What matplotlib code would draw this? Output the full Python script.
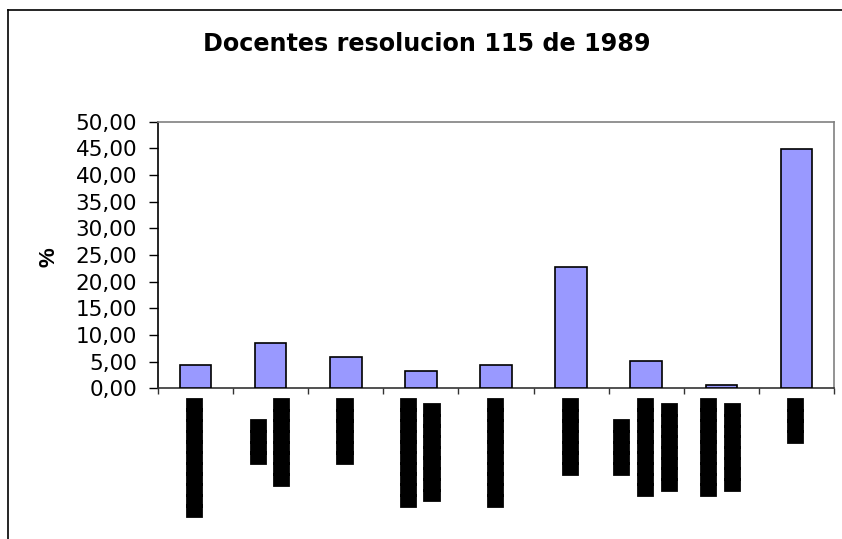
import numpy as np
import matplotlib
matplotlib.use("Agg")
import matplotlib.pyplot as plt
import matplotlib.patheffects as pe
from matplotlib.lines import Line2D
from matplotlib.transforms import ScaledTranslation

# ---- data ----
title = "Docentes resolucion 115 de 1989"
y_label = "%"
values = [4.4, 8.5, 5.9, 3.3, 4.4, 22.8, 5.1, 0.6, 44.8]
# category labels are unreadable in the reference (rendered as solid black blocks)
B = "\u2588"
category_labels = [
    B * 11,
    B * 4 + "\n" + B * 8,
    B * 6,
    B * 10 + "\n" + B * 9,
    B * 10,
    B * 7,
    B * 5 + "\n" + B * 9 + "\n" + B * 8,
    B * 9 + "\n" + B * 8,
    B * 4,
]
y_ticks = [0, 5, 10, 15, 20, 25, 30, 35, 40, 45, 50]

W, Hh = 842, 539
fig = plt.figure(figsize=(W / 100, Hh / 100), dpi=100)
fig.patch.set_facecolor("white")

left, right, top, bottom = 158, 834, 121.7, 388.3
ax = fig.add_axes([left / W, 1 - bottom / Hh, (right - left) / W, (bottom - top) / Hh])

x = np.arange(len(values))
ax.bar(x, values, width=0.42, color="#9999FF", edgecolor="black", linewidth=1.2, zorder=3)
ax.set_xlim(-0.5, len(values) - 0.5)
ax.set_ylim(0, 50)

ax.set_yticks(y_ticks)
ax.set_yticklabels([f"{v:.2f}".replace(".", ",") for v in y_ticks])
ax.tick_params(axis="y", direction="out", length=6.5, width=1, pad=8.5,
               labelsize=15.5, labelfontfamily="DejaVu Sans")

ax.set_xticks(x)
ax.set_xticklabels(category_labels, rotation=90, fontsize=10, family="DejaVu Sans",
                   linespacing=1.85, ha="center", va="top")
ax.tick_params(axis="x", which="major", length=0, pad=8)
ax.set_xticks(np.arange(-0.5, len(values), 1), minor=True)
ax.tick_params(axis="x", which="minor", length=4, direction="out", width=1, color="#333333")
shift = ScaledTranslation(-0.015, 0, fig.dpi_scale_trans)
for lab in ax.get_xticklabels():
    lab.set_path_effects([pe.Stroke(linewidth=2, foreground="black", joinstyle="miter"),
                          pe.Normal()])
    lab.set_transform(lab.get_transform() + shift)

for s in ["top", "right"]:
    ax.spines[s].set_color("#808080")
    ax.spines[s].set_linewidth(1.2)
ax.spines["left"].set_color("black")
ax.spines["left"].set_linewidth(1.2)
ax.spines["bottom"].set_color("#333333")
ax.spines["bottom"].set_linewidth(1.2)

fig.text(427 / W, 1 - 44 / Hh, title, ha="center", va="center", fontsize=17.2,
         fontweight="bold", family="DejaVu Sans")
fig.text(49 / W, 1 - 257 / Hh, y_label, rotation=90, ha="center", va="center",
         fontsize=16, fontweight="bold", family="Liberation Sans")

fx, fy = 8 / W, 1 - 10 / Hh
fig.add_artist(Line2D([fx, fx], [-0.1, fy], transform=fig.transFigure, color="black", linewidth=1.2))
fig.add_artist(Line2D([fx, 1.1], [fy, fy], transform=fig.transFigure, color="black", linewidth=1.2))

fig.savefig("out.png", dpi=100)
